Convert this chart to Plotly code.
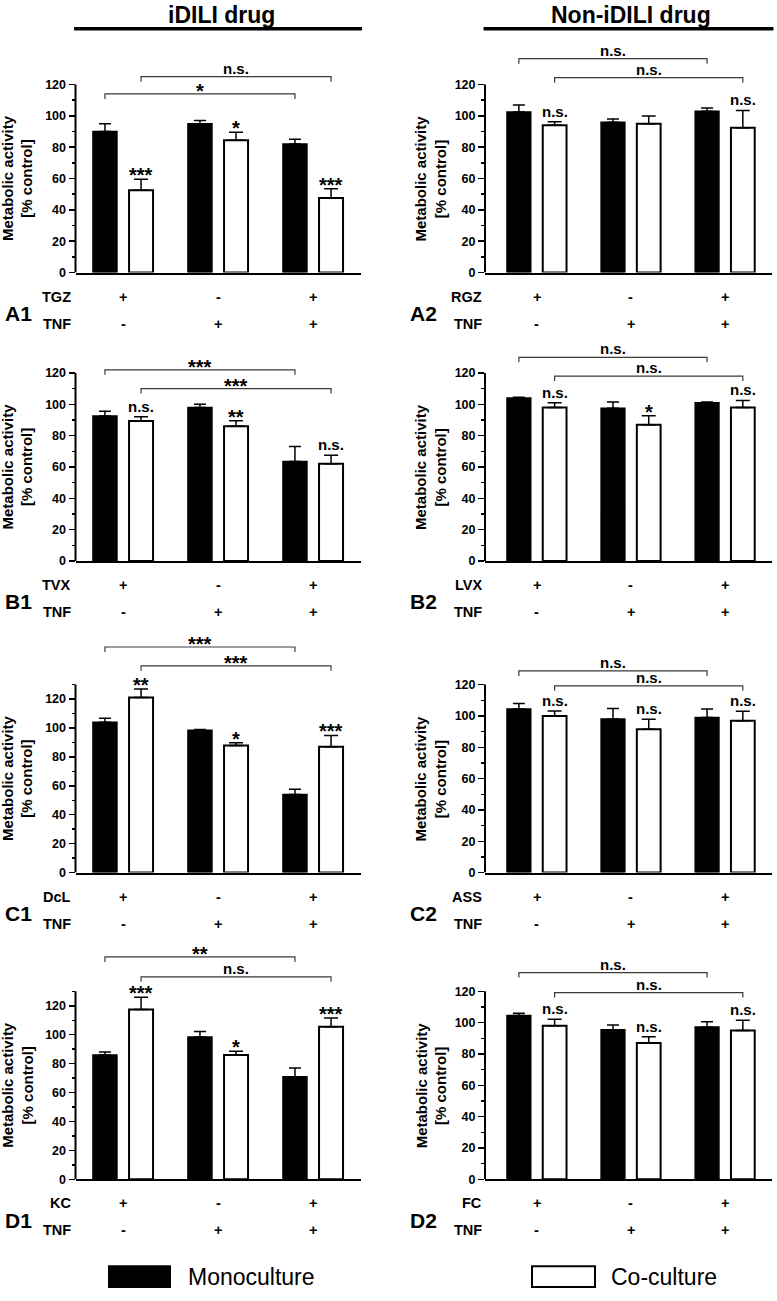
import plotly.graph_objects as go

# ---------------- data ----------------
groups = [0, 1, 2]
drug_signs = ["+", "-", "+"]
tnf_signs = ["-", "+", "+"]

panel_ids = ["A1", "A2", "B1", "B2", "C1", "C2", "D1", "D2"]
drug_names = ["TGZ", "RGZ", "TVX", "LVX", "DcL", "ASS", "KC", "FC"]
axis_tops = [120, 120, 120, 120, 130, 120, 130, 120]

A1_mono = [90, 95, 82];        A1_mono_err = [5, 2, 3]
A1_co = [52.5, 84.5, 47.5];    A1_co_err = [7, 5, 6]
A1_sig = ["***", "*", "***"]
A1_brackets = [("mono", 114, "*"), ("co", 125, "n.s.")]

A2_mono = [102.5, 96, 103];    A2_mono_err = [4.5, 2, 2]
A2_co = [94, 95, 92.5];        A2_co_err = [2.3, 5, 11]
A2_sig = ["n.s.", "", "n.s."]
A2_brackets = [("mono", 136.5, "n.s."), ("co", 124.4, "n.s.")]

B1_mono = [92.5, 98, 63.5];    B1_mono_err = [3, 2, 9.5]
B1_co = [89.3, 86, 62];        B1_co_err = [2.7, 3.5, 5.5]
B1_sig = ["n.s.", "**", "n.s."]
B1_brackets = [("mono", 122, "***"), ("co", 110, "***")]

B2_mono = [104, 97.5, 101];    B2_mono_err = [0.5, 4, 0.5]
B2_co = [98, 87, 98];          B2_co_err = [3, 5.7, 4.5]
B2_sig = ["n.s.", "*", "n.s."]
B2_brackets = [("mono", 130, "n.s."), ("co", 118, "n.s.")]

C1_mono = [104, 98.5, 54];     C1_mono_err = [2.8, 0.4, 3.7]
C1_co = [121, 87.8, 87];       C1_co_err = [6, 2, 7.8]
C1_sig = ["**", "*", "***"]
C1_brackets = [("mono", 156, "***"), ("co", 143, "***")]

C2_mono = [104.4, 98, 99];     C2_mono_err = [3.6, 6.7, 5.5]
C2_co = [100, 91.5, 97];       C2_co_err = [3.2, 6.3, 6]
C2_sig = ["n.s.", "n.s.", "n.s."]
C2_brackets = [("mono", 128.7, "n.s."), ("co", 119.2, "n.s.")]

D1_mono = [86, 98.5, 71];      D1_mono_err = [2, 3.8, 6]
D1_co = [117.5, 86, 105.5];    D1_co_err = [8.5, 2.5, 6]
D1_sig = ["***", "*", "***"]
D1_brackets = [("mono", 153.8, "**"), ("co", 140, "n.s.")]

D2_mono = [104.5, 95.5, 97.3]; D2_mono_err = [1.5, 3, 3.3]
D2_co = [98, 87, 95];          D2_co_err = [4.2, 4, 6.5]
D2_sig = ["n.s.", "n.s.", "n.s."]
D2_brackets = [("mono", 132, "n.s."), ("co", 119.2, "n.s.")]

panels = [
    (A1_mono, A1_mono_err, A1_co, A1_co_err, A1_sig, A1_brackets),
    (A2_mono, A2_mono_err, A2_co, A2_co_err, A2_sig, A2_brackets),
    (B1_mono, B1_mono_err, B1_co, B1_co_err, B1_sig, B1_brackets),
    (B2_mono, B2_mono_err, B2_co, B2_co_err, B2_sig, B2_brackets),
    (C1_mono, C1_mono_err, C1_co, C1_co_err, C1_sig, C1_brackets),
    (C2_mono, C2_mono_err, C2_co, C2_co_err, C2_sig, C2_brackets),
    (D1_mono, D1_mono_err, D1_co, D1_co_err, D1_sig, D1_brackets),
    (D2_mono, D2_mono_err, D2_co, D2_co_err, D2_sig, D2_brackets),
]

column_titles = ["iDILI drug", "Non-iDILI drug"]
legend_names = ["Monoculture", "Co-culture"]

# ---------------- layout constants ----------------
W, H = 777, 1301
FONT = "Liberation Sans, Arial, Helvetica, sans-serif"


def px2x(px):
    return px / W


def px2y(py):
    return 1 - py / H


ROW_BASE = [274, 564, 877.3, 1185.7]     # px of y=0 line per row
AXIS_PX = 189                            # px from 0 to axis top
Y_EXT = 170                              # extended range for brackets
COL_X = [(75.5, 360.5), (485, 772)]
COL_XRANGE = [[-0.5, 2.5], [-0.55, 2.5]]
BARGAP = 0.24
BARGROUPGAP = 0.335
OFF = (1 - BARGAP) / 4
LABEL_SHIFT = [-3, -1]
PANEL_SHIFT = [-42, -46]
YTITLE_SHIFT = [-58, -54]
STAR_SIZE = 20
NS_SIZE = 15

fig = go.Figure()
layout = {}
shapes = []
annotations = []


def ann(**kw):
    d = dict(showarrow=False, font=dict(family=FONT, size=14, color="black", weight="bold"))
    d.update(kw)
    annotations.append(d)


def sig_font(t):
    star = "*" in t
    return dict(family=FONT, size=STAR_SIZE if star else NS_SIZE,
                color="black", weight="bold")


for k, (mono, mono_err, co, co_err, sig, brackets) in enumerate(panels):
    r, c = k // 2, k % 2
    s = "" if k == 0 else str(k + 1)
    xn, yn = "x" + s, "y" + s
    top = axis_tops[k]
    scale = AXIS_PX / top
    base = ROW_BASE[r]
    top_px = max(0, base - Y_EXT * scale)
    y_ext = (base - top_px) / scale
    y_dom = [px2y(base), px2y(top_px)]
    x_dom = [px2x(COL_X[c][0]), px2x(COL_X[c][1])]
    xr = COL_XRANGE[c]

    layout["xaxis" + s] = dict(
        domain=x_dom, range=xr, anchor=yn, showline=True, linewidth=2,
        linecolor="black", showticklabels=False, ticks="", showgrid=False,
        zeroline=False, fixedrange=True)
    layout["yaxis" + s] = dict(
        domain=y_dom, range=[0, y_ext], anchor=xn, showline=False,
        ticks="outside", ticklen=6, tickwidth=1.5, tickcolor="black",
        tickmode="array", tickvals=list(range(0, top + 1, 20)),
        tickfont=dict(family=FONT, size=12.5, color="black", weight="bold"),
        showgrid=False, zeroline=False, fixedrange=True,
        minor=dict(tickmode="array", tickvals=list(range(10, top + 1, 20)),
                   ticks="outside", ticklen=3, tickwidth=1.5, tickcolor="black"))

    fig.add_trace(go.Bar(
        x=groups, y=mono, xaxis=xn, yaxis=yn, showlegend=False,
        name=legend_names[0], offsetgroup="mono",
        marker=dict(color="black", line=dict(color="black", width=1.5)),
        error_y=dict(type="data", symmetric=False, array=mono_err,
                     arrayminus=[0] * len(mono), color="black",
                     thickness=1.5, width=6)))
    fig.add_trace(go.Bar(
        x=groups, y=co, xaxis=xn, yaxis=yn, showlegend=False,
        name=legend_names[1], offsetgroup="co",
        marker=dict(color="white", line=dict(color="black", width=2)),
        error_y=dict(type="data", symmetric=False, array=co_err,
                     arrayminus=[0] * len(co), color="black",
                     thickness=1.5, width=7)))

    # y axis line (only 0..top)
    shapes.append(dict(type="line", xref=xn + " domain", x0=0, x1=0,
                       yref=yn, y0=0, y1=top,
                       line=dict(color="black", width=2)))

    # significance above co-culture bars
    for g, v, e, t in zip(groups, co, co_err, sig):
        if not t:
            continue
        star = "*" in t
        ann(x=g + OFF, y=v + e, xref=xn, yref=yn, text=t, xanchor="center",
            yanchor="bottom", yshift=-9 if star else 0, font=sig_font(t))

    # brackets
    d = 5 / scale
    for kind, level, t in brackets:
        off = -OFF if kind == "mono" else OFF
        x1, x2 = groups[0] + off, groups[2] + off
        shapes.append(dict(
            type="path", xref=xn, yref=yn,
            path=f"M {x1},{level - d} L {x1},{level} L {x2},{level} L {x2},{level - d}",
            line=dict(color="#3a3a3a", width=1.2)))
        star = "*" in t
        ann(x=(x1 + x2) / 2, y=level, xref=xn, yref=yn, text=t,
            xanchor="center", yanchor="bottom", yshift=-10 if star else -2,
            font=sig_font(t))

    # y title
    ann(x=xr[0], y=top / 2, xref=xn, yref=yn, xanchor="center",
        yanchor="middle", xshift=YTITLE_SHIFT[c], textangle=-90,
        text="Metabolic activity<br>[% control]",
        font=dict(family=FONT, size=15, color="black", weight="bold"))

    # treatment rows
    row_font = dict(family=FONT, size=14.5, color="black", weight="bold")
    ann(x=xr[0], y=0, xref=xn, yref=yn, text=drug_names[k], xanchor="right",
        yanchor="middle", xshift=LABEL_SHIFT[c], yshift=-24, font=row_font)
    ann(x=xr[0], y=0, xref=xn, yref=yn, text="TNF", xanchor="right",
        yanchor="middle", xshift=LABEL_SHIFT[c], yshift=-51, font=row_font)
    for g, ds, ts in zip(groups, drug_signs, tnf_signs):
        ann(x=g, y=0, xref=xn, yref=yn, text=ds, xanchor="center",
            yanchor="middle", yshift=-24, font=row_font)
        ann(x=g, y=0, xref=xn, yref=yn, text=ts, xanchor="center",
            yanchor="middle", yshift=-51, font=row_font)

    # panel label
    ann(x=xr[0], y=0, xref=xn, yref=yn, text=panel_ids[k], xanchor="right",
        yanchor="middle", xshift=PANEL_SHIFT[c], yshift=-41,
        font=dict(family=FONT, size=21, color="black", weight="bold"))

# column titles
for c, (title, cx) in enumerate(zip(column_titles, [221, 631])):
    xn = "x" if c == 0 else "x2"
    ann(x=px2x(cx), y=px2y(15), xref="paper", yref="paper", text=title,
        xanchor="center", yanchor="middle",
        font=dict(family=FONT, size=23, color="black", weight="bold"))
    shapes.append(dict(type="line", xref=xn + " domain", x0=-0.005, x1=1.005,
                       yref="paper", y0=px2y(29), y1=px2y(29),
                       line=dict(color="black", width=3.5)))

# legend
leg_boxes = [(109, 170, "black"), (532, 595, "white")]
leg_text_x = [186, 609]
for (x0, x1, fc), tx, name in zip(leg_boxes, leg_text_x, legend_names):
    shapes.append(dict(type="rect", xref="paper", yref="paper",
                       x0=px2x(x0), x1=px2x(x1), y0=px2y(1294), y1=px2y(1273),
                       fillcolor=fc, line=dict(color="black", width=2)))
    ann(x=px2x(tx), y=px2y(1284), xref="paper", yref="paper", text=name,
        xanchor="left", yanchor="middle",
        font=dict(family=FONT, size=23, color="black", weight="normal"))

fig.update_layout(
    width=W, height=H, margin=dict(l=0, r=0, t=0, b=0),
    paper_bgcolor="white", plot_bgcolor="rgba(0,0,0,0)",
    barmode="group", bargap=BARGAP, bargroupgap=BARGROUPGAP,
    showlegend=False, hovermode=False, shapes=shapes, annotations=annotations,
    **layout)

# remove the default page margin so the figure fills the window exactly
fig.write_html("out.html",
               config={"displayModeBar": False, "staticPlot": True},
               post_script="document.body.style.margin='0';"
                           "document.body.style.overflow='hidden';")
